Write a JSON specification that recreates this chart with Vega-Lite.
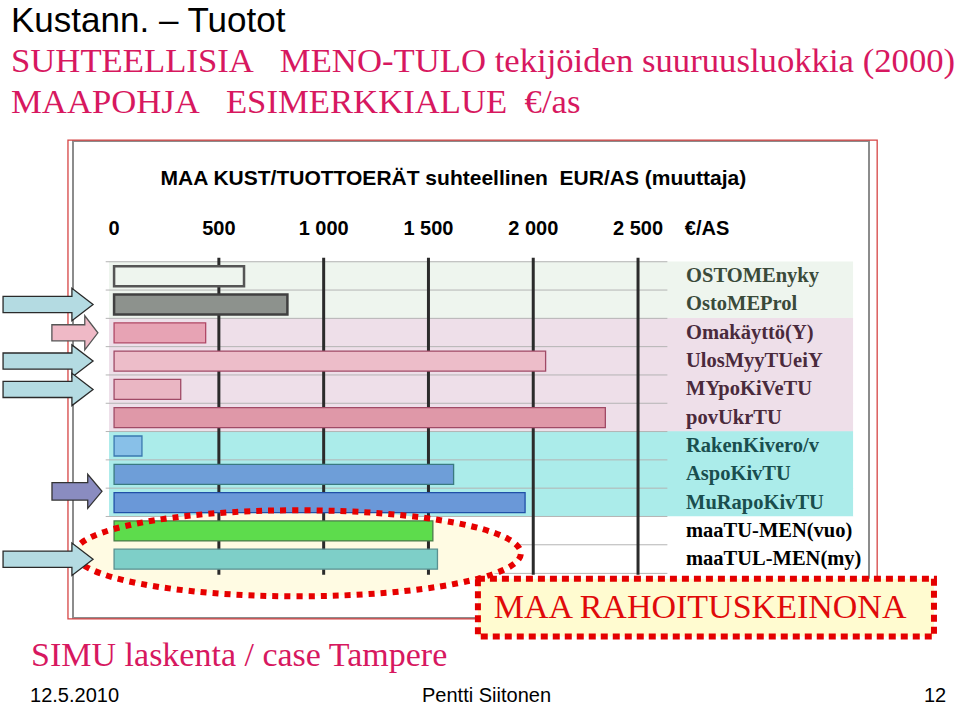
{
  "$schema": "https://vega.github.io/schema/vega-lite/v6.json",
  "width": 796,
  "height": 477,
  "autosize": {"type": "none"},
  "padding": {"left": 73, "top": 141, "right": 91, "bottom": 94},
  "background": "white",
  "view": {"stroke": "#8c8c8c", "strokeWidth": 2},
  "config": {
    "font": "Liberation Sans",
    "locale": {"number": {"decimal": ",", "thousands": " ", "grouping": [3], "currency": ["", " €"]}}
  },
  "title": {
    "text": "Kustann. – Tuotot",
    "subtitle": ["SUHTEELLISIA\u00a0\u00a0 MENO-TULO tekijöiden suuruusluokkia (2000)", "MAAPOHJA\u00a0\u00a0 ESIMERKKIALUE\u00a0 €/as"],
    "anchor": "start",
    "frame": "group",
    "orient": "top",
    "offset": 20,
    "dx": -62,
    "font": "Liberation Sans",
    "fontSize": 35,
    "fontWeight": "normal",
    "color": "#000000",
    "subtitleFont": "Liberation Serif",
    "subtitleFontSize": 34.7,
    "subtitleColor": "#d7185f",
    "subtitleLineHeight": 41,
    "subtitlePadding": 6
  },
  "datasets": {
    "erat": [
      {"rivi": 1, "era": "OSTOMEnyky", "ryhma": "Osto", "eur": 620},
      {"rivi": 2, "era": "OstoMEProl", "ryhma": "Osto", "eur": 827},
      {"rivi": 3, "era": "Omakäyttö(Y)", "ryhma": "Kaytto", "eur": 437},
      {"rivi": 4, "era": "UlosMyyTUeiY", "ryhma": "Kaytto", "eur": 2059},
      {"rivi": 5, "era": "MYpoKiVeTU", "ryhma": "Kaytto", "eur": 318},
      {"rivi": 6, "era": "povUkrTU", "ryhma": "Kaytto", "eur": 2344},
      {"rivi": 7, "era": "RakenKivero/v", "ryhma": "Rakentaminen", "eur": 133},
      {"rivi": 8, "era": "AspoKivTU", "ryhma": "Rakentaminen", "eur": 1620},
      {"rivi": 9, "era": "MuRapoKivTU", "ryhma": "Rakentaminen", "eur": 1961},
      {"rivi": 10, "era": "maaTU-MEN(vuo)", "ryhma": "Maa", "eur": 1521},
      {"rivi": 11, "era": "maaTUL-MEN(my)", "ryhma": "Maa", "eur": 1543}
    ],
    "asteikko": [{"eur": 0}, {"eur": 500}, {"eur": 1000}, {"eur": 1500}, {"eur": 2000}, {"eur": 2500}],
    "nuolet": [{"rivi": 2}, {"rivi": 4}, {"rivi": 5}, {"rivi": 11}]
  },
  "layer": [
    {
      "data": {"values": [{}]},
      "mark": {"type": "rect", "fill": null, "fillOpacity": 0, "stroke": "#d64545", "strokeWidth": 1.3},
      "encoding": {
        "x": {"datum": -220, "scale": {"domain": [-196, 3602], "nice": false, "zero": false}, "axis": null},
        "x2": {"datum": 3641},
        "y": {"datum": -3.81, "scale": {"domain": [-3.6, 12.9], "nice": false, "zero": false, "reverse": true}, "axis": null},
        "y2": {"datum": 13.11}
      }
    },
    {
      "data": {"name": "erat"},
      "mark": {"type": "bar", "orient": "horizontal", "size": 29.5},
      "encoding": {
        "x": {"datum": -24, "axis": null},
        "x2": {"datum": 3526},
        "y": {"field": "rivi", "type": "quantitative", "axis": null},
        "color": {
          "field": "ryhma",
          "type": "nominal",
          "scale": {"domain": ["Osto", "Kaytto", "Rakentaminen", "Maa"], "range": ["#eef5ee", "#eedfe9", "#abecea", "#ffffff"]},
          "legend": null
        }
      }
    },
    {
      "data": {"name": "erat"},
      "mark": {"type": "rule", "color": "#b4b4b4", "strokeWidth": 1, "yOffset": -14.45},
      "encoding": {
        "x": {"datum": -40, "axis": null},
        "x2": {"datum": 2640},
        "y": {"field": "rivi", "type": "quantitative", "axis": null}
      }
    },
    {
      "data": {"values": [{}]},
      "mark": {"type": "rule", "color": "#b4b4b4", "strokeWidth": 1},
      "encoding": {
        "x": {"datum": -40, "axis": null},
        "x2": {"datum": 2640},
        "y": {"datum": 11.5, "axis": null}
      }
    },
    {
      "data": {"values": [{}]},
      "mark": {"type": "point", "shape": "M-1,0A1,0.193,0,1,1,1,0A1,0.193,0,1,1,-1,0Z", "size": 198916, "filled": true, "fill": "#fffbe3", "strokeWidth": 0, "opacity": 1},
      "encoding": {
        "x": {"datum": 877, "axis": null},
        "y": {"datum": 10.79, "axis": null}
      }
    },
    {
      "data": {"name": "asteikko"},
      "transform": [{"filter": "datum.eur > 0"}],
      "mark": {"type": "rule", "color": "#2b2b2b", "strokeWidth": 3},
      "encoding": {
        "x": {"field": "eur", "type": "quantitative", "axis": null},
        "y": {"datum": 0.35, "axis": null},
        "y2": {"datum": 11.55}
      }
    },
    {
      "data": {"name": "asteikko"},
      "mark": {"type": "text", "align": "center", "baseline": "alphabetic", "font": "Liberation Sans", "fontSize": 20, "fontWeight": "bold", "color": "#000000"},
      "encoding": {
        "x": {"field": "eur", "type": "quantitative", "axis": null},
        "y": {"datum": -0.45, "axis": null},
        "text": {"field": "eur", "type": "quantitative", "format": ",d"}
      }
    },
    {
      "data": {"values": [{"teksti": "€/AS"}]},
      "mark": {"type": "text", "align": "center", "baseline": "alphabetic", "font": "Liberation Sans", "fontSize": 20, "fontWeight": "bold", "color": "#000000"},
      "encoding": {
        "x": {"datum": 2829, "axis": null},
        "y": {"datum": -0.45, "axis": null},
        "text": {"field": "teksti", "type": "nominal"}
      }
    },
    {
      "data": {"values": [{"teksti": "MAA KUST/TUOTTOERÄT suhteellinen\u00a0 EUR/AS (muuttaja)"}]},
      "mark": {"type": "text", "align": "center", "baseline": "alphabetic", "font": "Liberation Sans", "fontSize": 21, "fontWeight": "bold", "color": "#000000"},
      "encoding": {
        "x": {"datum": 1619, "axis": null},
        "y": {"datum": -2.22, "axis": null},
        "text": {"field": "teksti", "type": "nominal"}
      }
    },
    {
      "data": {"name": "erat"},
      "transform": [{"filter": "datum.rivi <= 2"}],
      "mark": {"type": "bar", "orient": "horizontal", "size": 20, "strokeWidth": 2.5},
      "encoding": {
        "x": {"field": "eur", "type": "quantitative", "axis": null},
        "y": {"field": "rivi", "type": "quantitative", "axis": null},
        "fill": {"field": "era", "type": "nominal", "scale": {"domain": ["OSTOMEnyky", "OstoMEProl"], "range": ["#eef5ee", "#8d928d"]}, "legend": null},
        "stroke": {"field": "era", "type": "nominal", "scale": {"domain": ["OSTOMEnyky", "OstoMEProl"], "range": ["#555555", "#404040"]}, "legend": null}
      }
    },
    {
      "data": {"name": "erat"},
      "transform": [{"filter": "datum.rivi > 2"}],
      "mark": {"type": "bar", "orient": "horizontal", "size": 20, "strokeWidth": 1.3},
      "encoding": {
        "x": {"field": "eur", "type": "quantitative", "axis": null},
        "y": {"field": "rivi", "type": "quantitative", "axis": null},
        "fill": {
          "field": "era",
          "type": "nominal",
          "scale": {
            "domain": ["Omakäyttö(Y)", "UlosMyyTUeiY", "MYpoKiVeTU", "povUkrTU", "RakenKivero/v", "AspoKivTU", "MuRapoKivTU", "maaTU-MEN(vuo)", "maaTUL-MEN(my)"],
            "range": ["#e7a3b4", "#edbdc9", "#eab6c3", "#df98a8", "#88c0e8", "#6e9ed8", "#6a98d8", "#5ddc4c", "#7ecfc8"]
          },
          "legend": null
        },
        "stroke": {
          "field": "era",
          "type": "nominal",
          "scale": {
            "domain": ["Omakäyttö(Y)", "UlosMyyTUeiY", "MYpoKiVeTU", "povUkrTU", "RakenKivero/v", "AspoKivTU", "MuRapoKivTU", "maaTU-MEN(vuo)", "maaTUL-MEN(my)"],
            "range": ["#b04866", "#a04a66", "#a04a66", "#a04a66", "#3a78b0", "#3a7a80", "#2050a8", "#4a7a4a", "#5a9090"]
          },
          "legend": null
        }
      }
    },
    {
      "data": {"values": [{}]},
      "mark": {"type": "point", "shape": "M-1,0A1,0.193,0,1,1,1,0A1,0.193,0,1,1,-1,0Z", "size": 198916, "filled": false, "stroke": "#e60000", "strokeWidth": 6, "strokeDash": [6, 6], "opacity": 1},
      "encoding": {
        "x": {"datum": 877, "axis": null},
        "y": {"datum": 10.79, "axis": null}
      }
    },
    {
      "data": {"name": "erat"},
      "mark": {"type": "text", "align": "left", "baseline": "middle", "font": "Liberation Serif", "fontSize": 20.5, "fontWeight": "bold"},
      "encoding": {
        "x": {"datum": 2729, "axis": null},
        "y": {"field": "rivi", "type": "quantitative", "axis": null},
        "text": {"field": "era", "type": "nominal"},
        "color": {
          "field": "ryhma",
          "type": "nominal",
          "scale": {"domain": ["Osto", "Kaytto", "Rakentaminen", "Maa"], "range": ["#3a4a3a", "#4a2a3c", "#1a4e4e", "#000000"]},
          "legend": null
        }
      }
    },
    {
      "data": {"name": "nuolet"},
      "mark": {"type": "point", "shape": "M-1,-0.18L0.53,-0.18L0.53,-0.36L1,0L0.53,0.36L0.53,0.18L-1,0.18Z", "size": 8100, "filled": true, "fill": "#b4dbe2", "stroke": "#2a2a2a", "strokeWidth": 1.3, "opacity": 1},
      "encoding": {
        "x": {"datum": -315, "axis": null},
        "y": {"field": "rivi", "type": "quantitative", "axis": null}
      }
    },
    {
      "data": {"values": [{}]},
      "mark": {"type": "point", "shape": "M-1,-0.35L0.43,-0.35L0.43,-0.74L1,0L0.43,0.74L0.43,0.35L-1,0.35Z", "size": 2116, "filled": true, "fill": "#efb9c6", "stroke": "#555555", "strokeWidth": 1.3, "opacity": 1},
      "encoding": {
        "x": {"datum": -187, "axis": null},
        "y": {"datum": 3, "axis": null}
      }
    },
    {
      "data": {"values": [{}]},
      "mark": {"type": "point", "shape": "M-1,-0.35L0.43,-0.35L0.43,-0.68L1,0L0.43,0.68L0.43,0.35L-1,0.35Z", "size": 2500, "filled": true, "fill": "#8a8cc0", "stroke": "#333333", "strokeWidth": 1.3, "opacity": 1},
      "encoding": {
        "x": {"datum": -177, "axis": null},
        "y": {"datum": 8.6, "axis": null}
      }
    },
    {
      "data": {"values": [{}]},
      "mark": {"type": "rect", "fill": "#fffbd0", "stroke": "#e40000", "strokeWidth": 6, "strokeDash": [7, 5]},
      "encoding": {
        "x": {"datum": 1736, "axis": null},
        "x2": {"datum": 3912},
        "y": {"datum": 11.69, "axis": null},
        "y2": {"datum": 13.73}
      }
    },
    {
      "data": {"values": [{"teksti": "MAA RAHOITUSKEINONA"}]},
      "mark": {"type": "text", "align": "center", "baseline": "alphabetic", "font": "Liberation Serif", "fontSize": 34, "color": "#e00a0a"},
      "encoding": {
        "x": {"datum": 2796, "axis": null},
        "y": {"datum": 13.06, "axis": null},
        "text": {"field": "teksti", "type": "nominal"}
      }
    },
    {
      "data": {"values": [{"teksti": "SIMU laskenta / case Tampere"}]},
      "mark": {"type": "text", "align": "left", "baseline": "alphabetic", "font": "Liberation Serif", "fontSize": 34, "color": "#d7185f"},
      "encoding": {
        "x": {"datum": -396, "axis": null},
        "y": {"datum": 14.76, "axis": null},
        "text": {"field": "teksti", "type": "nominal"}
      }
    },
    {
      "data": {"values": [{"teksti": "12.5.2010"}]},
      "mark": {"type": "text", "align": "left", "baseline": "alphabetic", "font": "Liberation Sans", "fontSize": 20, "color": "#000000"},
      "encoding": {
        "x": {"datum": -401, "axis": null},
        "y": {"datum": 16.05, "axis": null},
        "text": {"field": "teksti", "type": "nominal"}
      }
    },
    {
      "data": {"values": [{"teksti": "Pentti Siitonen"}]},
      "mark": {"type": "text", "align": "center", "baseline": "alphabetic", "font": "Liberation Sans", "fontSize": 20, "color": "#000000"},
      "encoding": {
        "x": {"datum": 1777, "axis": null},
        "y": {"datum": 16.05, "axis": null},
        "text": {"field": "teksti", "type": "nominal"}
      }
    },
    {
      "data": {"values": [{"teksti": "12"}]},
      "mark": {"type": "text", "align": "right", "baseline": "alphabetic", "font": "Liberation Sans", "fontSize": 20, "color": "#000000"},
      "encoding": {
        "x": {"datum": 3970, "axis": null},
        "y": {"datum": 16.05, "axis": null},
        "text": {"field": "teksti", "type": "nominal"}
      }
    }
  ],
  "resolve": {"scale": {"color": "independent", "fill": "independent", "stroke": "independent"}}
}
